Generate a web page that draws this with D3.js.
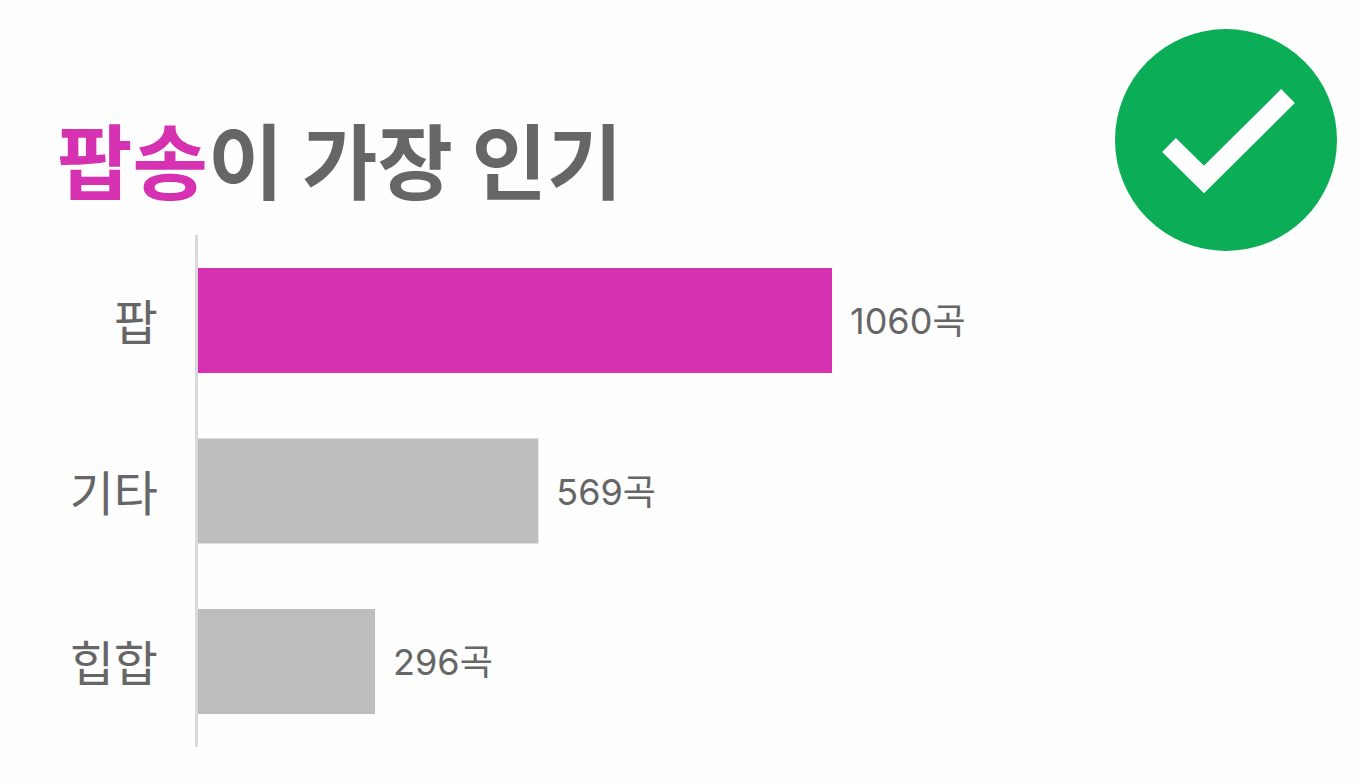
<!DOCTYPE html>
<html>
<head>
<meta charset="utf-8">
<script src="https://cdn.jsdelivr.net/npm/d3@7"></script>
<style>
body { margin: 0; background: #fefefe; }
text { font-family: "Noto Sans CJK KR", "Noto Sans", sans-serif; }
</style>
</head>
<body>
<div id="canvas"></div>
<script>
const categories = ["팝", "기타", "힙합"];
const values = [1060, 569, 296];
const unit = "곡";
const highlight = "팝";
const titleAccent = "팝송";
const titleRest = "이 가장 인기";

const width = 1360;
const height = 784;

const svg = d3.select("#canvas").append("svg")
    .attr("width", width)
    .attr("height", height)
    .style("display", "block");

const x = d3.scaleLinear().domain([0, 1060]).range([198, 832]);
const y = d3.scaleBand().domain(categories).range([268, 714]).paddingInner(0.384).paddingOuter(0);

svg.selectAll("rect.bar").data(categories).enter().append("rect")
    .attr("class", "bar")
    .attr("x", x(0))
    .attr("y", d => y(d))
    .attr("width", (d, i) => x(values[i]) - x(0))
    .attr("height", y.bandwidth())
    .attr("fill", d => d === highlight ? "#d631b0" : "#bdbdbd");

svg.append("line")
    .attr("x1", 196.5).attr("x2", 196.5)
    .attr("y1", 235).attr("y2", 747)
    .attr("stroke", "#d9d9d9").attr("stroke-width", 3);

svg.selectAll("text.cat").data(categories).enter().append("text")
    .attr("class", "cat")
    .attr("x", 158)
    .attr("y", d => y(d) + y.bandwidth() / 2 + 3)
    .attr("dy", "0.35em")
    .attr("text-anchor", "end")
    .attr("font-size", 48)
    .attr("fill", "#666")
    .text(d => d);

svg.selectAll("text.val").data(categories).enter().append("text")
    .attr("class", "val")
    .attr("x", (d, i) => x(values[i]) + 18)
    .attr("y", d => y(d) + y.bandwidth() / 2 + 1)
    .attr("dy", "0.35em")
    .attr("font-size", 36)
    .attr("fill", "#666")
    .style("font-family", 'Inter, "Noto Sans CJK KR", sans-serif')
    .text((d, i) => values[i] + unit);

const title = svg.append("text")
    .attr("x", 57)
    .attr("y", 193)
    .attr("font-size", 82)
    .attr("font-weight", 700)
    .attr("fill", "#666");
title.append("tspan").attr("fill", "#d631b0").text(titleAccent);
title.append("tspan").text(titleRest);

const badge = svg.append("g").attr("transform", "translate(1226,140)");
badge.append("circle").attr("r", 111).attr("fill", "#0bae57");
badge.append("path")
    .attr("d", d3.line()([[-57, 5], [-22, 39.5], [62, -44]]))
    .attr("fill", "none")
    .attr("stroke", "#fff")
    .attr("stroke-width", 19.5);
</script>
</body>
</html>
